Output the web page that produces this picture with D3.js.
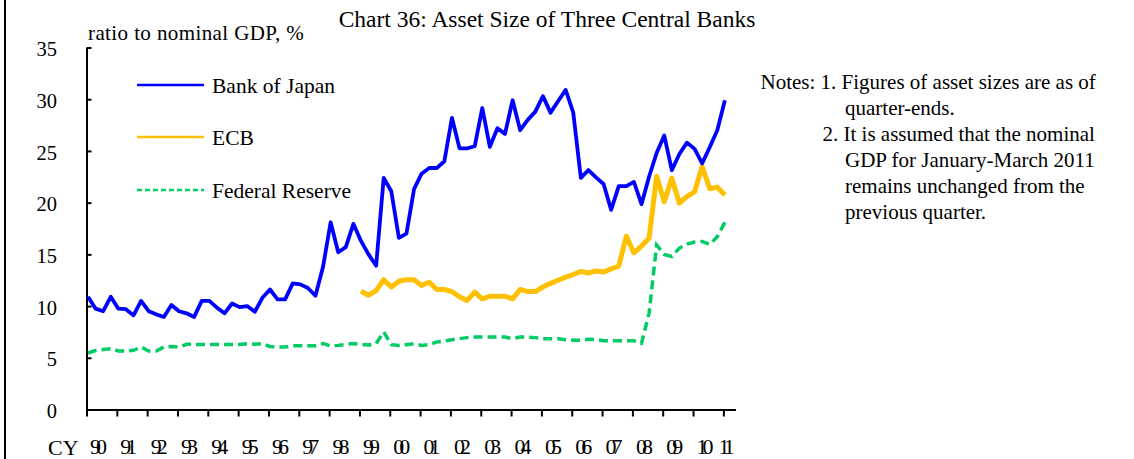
<!DOCTYPE html>
<html>
<head>
<meta charset="utf-8">
<script src="https://cdn.jsdelivr.net/npm/d3@7"></script>
<style>
  body { margin: 0; background: #fff; }
  svg { display: block; font-family: "Liberation Serif", "Times New Roman", serif; }
</style>
</head>
<body>
<div id="canvas"></div>
<script>
// quarterly values, 1990Q1 .. 2011Q1
const startYear = 1990;
const yearLabels = ["90","91","92","93","94","95","96","97","98","99","00","01","02","03","04","05","06","07","08","09","10","11"];
const yTicks = [0, 5, 10, 15, 20, 25, 30, 35];

const seriesNames = ["Bank of Japan", "ECB", "Federal Reserve"];

const bojValues = [
  10.9, 9.75, 9.5, 10.9, 9.75, 9.7, 9.1, 10.5,
  9.5, 9.2, 8.95, 10.1, 9.5, 9.3, 8.95, 10.5,
  10.5, 9.85, 9.3, 10.25, 9.9, 10.0, 9.45, 10.8,
  11.6, 10.65, 10.65, 12.2, 12.1, 11.75, 11.0, 13.8,
  18.1, 15.2, 15.7, 17.95, 16.3, 15.0, 13.9, 22.4,
  21.1, 16.6, 17.0, 21.3, 22.8, 23.35, 23.35, 24.0,
  28.2, 25.25, 25.25, 25.45, 29.15, 25.4, 27.2, 26.65,
  29.9, 27.0, 28.0, 28.8, 30.3, 28.7, 29.8, 30.9,
  28.7, 22.4, 23.15, 22.45, 21.8, 19.3, 21.6, 21.6,
  22.0, 19.85, 22.5, 24.8, 26.5, 23.15, 24.7, 25.8,
  25.2, 23.8, 25.35, 27.0, 29.9
];

// ECB starts in 1999Q1 (quarter index 36)
const ecbStart = 36;
const ecbValues = [
  11.45, 11.05, 11.5, 12.55, 11.85, 12.4, 12.55, 12.55,
  12.0, 12.3, 11.6, 11.6, 11.4, 10.9, 10.55, 11.35,
  10.7, 10.95, 10.95, 10.95, 10.7, 11.6, 11.4, 11.4,
  11.85, 12.2, 12.5, 12.8, 13.05, 13.35, 13.2, 13.4,
  13.3, 13.6, 13.85, 16.75, 15.15, 15.8, 16.55, 22.55,
  20.1, 22.35, 19.95, 20.6, 21.05, 23.5, 21.35, 21.5, 20.75
];

const fedValues = [
  5.46, 5.7, 5.8, 5.88, 5.66, 5.66, 5.72, 6.04,
  5.66, 5.66, 6.04, 6.1, 6.04, 6.3, 6.3, 6.28,
  6.28, 6.28, 6.28, 6.28, 6.28, 6.37, 6.3, 6.37,
  6.1, 6.04, 6.04, 6.17, 6.17, 6.17, 6.17, 6.37,
  6.14, 6.2, 6.3, 6.37, 6.3, 6.24, 6.37, 7.5,
  6.27, 6.2, 6.27, 6.37, 6.2, 6.27, 6.53, 6.62,
  6.75, 6.85, 6.95, 7.0, 7.0, 7.0, 7.0, 7.0,
  6.85, 7.0, 7.0, 6.95, 6.85, 6.85, 6.85, 6.75,
  6.7, 6.7, 6.78, 6.75, 6.65, 6.65, 6.65, 6.65,
  6.65, 6.4, 9.3, 15.9, 15.0, 14.8, 15.6, 16.0,
  16.2, 16.25, 15.95, 16.7, 18.1
];

const notes = [
  "Notes: 1. Figures of asset sizes are as of",
  "quarter-ends.",
  "2. It is assumed that the nominal",
  "GDP for January-March 2011",
  "remains unchanged from the",
  "previous quarter."
];

const width = 1134;
const height = 459;

const svg = d3.select("#canvas").append("svg")
  .attr("width", width)
  .attr("height", height);

// frame line on the left
svg.append("line")
  .attr("x1", 5).attr("x2", 5)
  .attr("y1", 0).attr("y2", height)
  .attr("stroke", "#000").attr("stroke-width", 2);

const x = d3.scaleLinear()
  .domain([startYear, 2011.4])
  .range([86.5, 735.5]);

const y = d3.scaleLinear()
  .domain([0, 35])
  .range([409.5, 47.5]);

const qx = i => x(startYear + i / 4 + 0.05);

// y axis, ticks pointing into the plot
const yAxis = svg.append("g")
  .attr("transform", `translate(${x(startYear)},0)`)
  .call(d3.axisLeft(y).tickValues(yTicks).tickSize(-5).tickSizeOuter(0).tickPadding(29.5));
yAxis.select(".domain").attr("stroke-width", 2);
yAxis.selectAll(".tick line").attr("stroke-width", 2);
yAxis.selectAll(".tick text")
  .attr("font-family", "Liberation Serif")
  .attr("font-size", 20.5)
  .attr("dy", "0.4em")
  .attr("fill", "#000");

// x axis, year ticks only
const years = d3.range(startYear, startYear + yearLabels.length);
const xAxis = svg.append("g")
  .attr("transform", `translate(0,${y(0)})`)
  .call(d3.axisBottom(x).tickValues(years).tickSize(7).tickSizeOuter(0).tickFormat(""));
xAxis.select(".domain").attr("stroke-width", 2);
xAxis.selectAll(".tick line").attr("stroke-width", 2);

svg.append("g").selectAll("text")
  .data(yearLabels)
  .join("text")
  .attr("x", (d, i) => Math.min(x(years[i]) + 3.5, x.range()[1] - 17))
  .attr("y", 454)
  .attr("font-size", 22)
  .attr("letter-spacing", "-5px")
  .text(d => d);

svg.append("text")
  .attr("x", 48).attr("y", 455)
  .attr("font-size", 22)
  .text("CY");

svg.append("text")
  .attr("x", 88).attr("y", 40)
  .attr("font-size", 21)
  .attr("letter-spacing", "0.4px")
  .text("ratio to nominal GDP, %");

svg.append("text")
  .attr("x", 547).attr("y", 27)
  .attr("text-anchor", "middle")
  .attr("font-size", 23.5)
  .text("Chart 36: Asset Size of Three Central Banks");

// lines
const line = d3.line()
  .x(d => qx(d.i))
  .y(d => y(d.v));

const bojData = bojValues.map((v, i) => ({ i: i, v: v }));
const ecbData = ecbValues.map((v, i) => ({ i: i + ecbStart, v: v }));
const fedData = fedValues.map((v, i) => ({ i: i, v: v }));

svg.append("path")
  .datum(fedData)
  .attr("d", line)
  .attr("fill", "none")
  .attr("stroke", "#00CC66")
  .attr("stroke-width", 3.5)
  .attr("stroke-dasharray", "9,5");

svg.append("path")
  .datum(ecbData)
  .attr("d", line)
  .attr("fill", "none")
  .attr("stroke", "#FFC000")
  .attr("stroke-width", 5)
  .attr("stroke-linejoin", "round");

svg.append("path")
  .datum(bojData)
  .attr("d", line)
  .attr("fill", "none")
  .attr("stroke", "#0000FF")
  .attr("stroke-width", 3.8)
  .attr("stroke-linejoin", "round");

// legend
const legendColors = ["#0000FF", "#FFC000", "#00CC66"];
const legendY = [85, 137, 190];
const legend = svg.append("g").selectAll("g")
  .data(seriesNames)
  .join("g")
  .attr("transform", (d, i) => `translate(137,${legendY[i]})`);
legend.append("line")
  .attr("x1", 0).attr("x2", 67)
  .attr("stroke", (d, i) => legendColors[i])
  .attr("stroke-width", 2.5)
  .attr("stroke-dasharray", (d, i) => i === 2 ? "5,3" : null);
legend.append("text")
  .attr("x", 75).attr("y", 8)
  .attr("font-size", 21.5)
  .text(d => d);

// notes
const noteX = [760.5, 845, 822.5, 845, 845, 845];
svg.append("g").selectAll("text")
  .data(notes)
  .join("text")
  .attr("x", (d, i) => noteX[i])
  .attr("y", (d, i) => 89 + i * 26)
  .attr("font-size", 21)
  .text(d => d);
</script>
</body>
</html>
